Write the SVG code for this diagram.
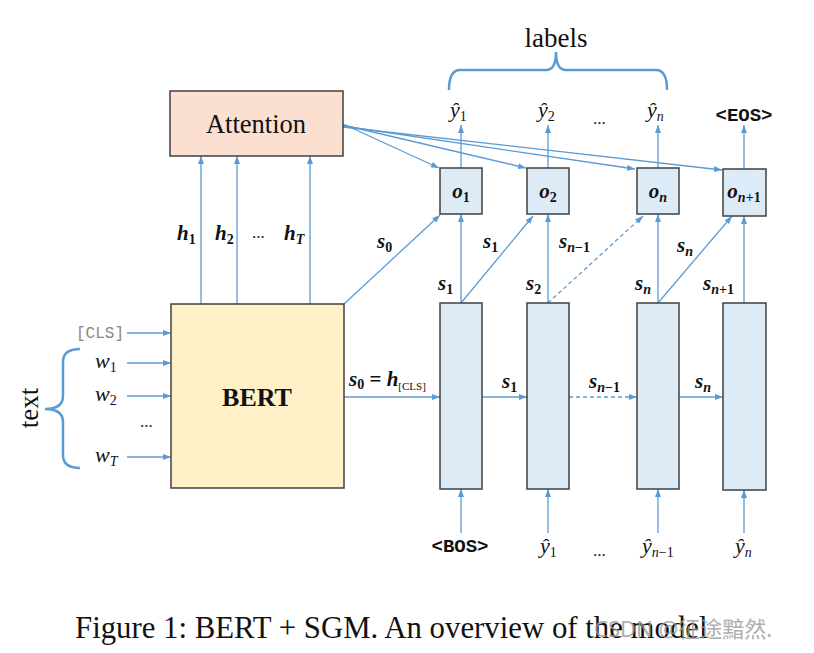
<svg xmlns="http://www.w3.org/2000/svg" width="814" height="653" viewBox="0 0 814 653">
<style>
.box{stroke:#404040;stroke-width:1.5}
.cell{fill:#ddebf7;stroke:#404040;stroke-width:1.5}
.ar{stroke:#5b9bd5;stroke-width:1.3;fill:none;marker-end:url(#ah)}
.dash{stroke-dasharray:4,3}
.brace{stroke:#5b9bd5;stroke-width:2.5;fill:none}
.serif{font-family:"Liberation Serif","Times New Roman",serif;fill:#111}
.mb{font-family:"Liberation Serif","Times New Roman",serif;font-weight:bold;font-style:italic;font-size:21px;fill:#111}
.mi{font-family:"Liberation Serif","Times New Roman",serif;font-style:italic;font-size:22px;fill:#111}
.sub{font-size:14px;font-style:normal}
.subi{font-size:14px;font-style:italic}
.mono{font-family:"Liberation Mono","Courier New",monospace;font-weight:bold;font-size:19px;fill:#111}
.dots{font-family:"Liberation Serif",serif;font-size:17px;fill:#222}
</style>
<defs>
<marker id="ah" markerUnits="userSpaceOnUse" markerWidth="8" markerHeight="6" refX="8" refY="3" orient="auto">
<path d="M0,0 L8,3 L0,6 z" fill="#5b9bd5"/>
</marker>
</defs>
<rect width="814" height="653" fill="#ffffff"/>

<g id="connectors">
<!-- inputs to BERT -->
<line class="ar" x1="127" y1="333" x2="171" y2="333"/>
<line class="ar" x1="127" y1="363" x2="171" y2="363"/>
<line class="ar" x1="127" y1="396" x2="171" y2="396"/>
<line class="ar" x1="127" y1="457" x2="171" y2="457"/>
<!-- h arrows -->
<line class="ar" x1="201" y1="304" x2="201" y2="156"/>
<line class="ar" x1="237" y1="304" x2="237" y2="156"/>
<line class="ar" x1="310" y1="304" x2="310" y2="156"/>
<!-- attention to outputs -->
<line class="ar" x1="343" y1="124" x2="439" y2="168"/>
<line class="ar" x1="343" y1="125" x2="526" y2="168"/>
<line class="ar" x1="343" y1="126" x2="635" y2="169"/>
<line class="ar" x1="343" y1="127" x2="722" y2="170"/>
<!-- s0 diagonal -->
<line class="ar" x1="344" y1="304" x2="440" y2="215"/>
<!-- horizontal state arrows -->
<line class="ar" x1="344" y1="397" x2="440" y2="397"/>
<line class="ar" x1="482" y1="397" x2="527" y2="397"/>
<line class="ar dash" x1="569" y1="397" x2="637" y2="397"/>
<line class="ar" x1="679" y1="397" x2="723" y2="397"/>
<!-- vertical cell to output -->
<line class="ar" x1="461" y1="303" x2="461" y2="214"/>
<line class="ar" x1="548" y1="303" x2="548" y2="214"/>
<line class="ar" x1="658" y1="303" x2="658" y2="214"/>
<line class="ar" x1="744" y1="303" x2="744" y2="216"/>
<!-- diagonals -->
<line class="ar" x1="461" y1="303" x2="533" y2="216"/>
<line class="ar dash" x1="548" y1="303" x2="643" y2="216"/>
<line class="ar" x1="658" y1="303" x2="732" y2="216"/>
<!-- outputs up -->
<line class="ar" x1="461" y1="168" x2="461" y2="125"/>
<line class="ar" x1="548" y1="168" x2="548" y2="125"/>
<line class="ar" x1="658" y1="168" x2="658" y2="125"/>
<line class="ar" x1="744" y1="169" x2="744" y2="125"/>
<!-- inputs from below -->
<line class="ar" x1="461" y1="533" x2="461" y2="489"/>
<line class="ar" x1="548" y1="533" x2="548" y2="489"/>
<line class="ar" x1="658" y1="533" x2="658" y2="489"/>
<line class="ar" x1="744" y1="533" x2="744" y2="490"/>
</g>

<g id="attention">
<rect class="box" x="170" y="91" width="173" height="65" fill="#fbe0d2"/>
<text class="serif" x="256" y="133" font-size="26.5" text-anchor="middle">Attention</text>
</g>

<g id="bert">
<rect class="box" x="171" y="304" width="173" height="184" fill="#fff0c8"/>
<text class="serif" x="257" y="406" font-size="26" font-weight="bold" text-anchor="middle">BERT</text>
</g>

<g id="cell1"><rect class="cell" x="440" y="303" width="42" height="186"/></g>
<g id="cell2"><rect class="cell" x="527" y="303" width="42" height="186"/></g>
<g id="cell3"><rect class="cell" x="637" y="303" width="42" height="186"/></g>
<g id="cell4"><rect class="cell" x="723" y="303" width="43" height="187"/></g>

<g id="o1"><rect class="cell" x="440" y="168" width="42" height="46"/>
<text class="mb" x="461" y="198" text-anchor="middle">o<tspan class="sub" dy="4">1</tspan></text></g>
<g id="o2"><rect class="cell" x="527" y="168" width="42" height="46"/>
<text class="mb" x="548" y="198" text-anchor="middle">o<tspan class="sub" dy="4">2</tspan></text></g>
<g id="on"><rect class="cell" x="637" y="168" width="42" height="46"/>
<text class="mb" x="658" y="198" text-anchor="middle">o<tspan class="subi" dy="4">n</tspan></text></g>
<g id="on1"><rect class="cell" x="723" y="169" width="43" height="47"/>
<text class="mb" x="744" y="198" text-anchor="middle">o<tspan class="subi" dy="4">n</tspan><tspan class="sub">+1</tspan></text></g>

<g id="labels-brace">
<path class="brace" d="M449,90 Q449,70 460,70 L546,70 Q556,70 556,52 Q556,70 566,70 L656,70 Q667,70 667,90"/>
<text class="serif" x="556" y="47" font-size="27" text-anchor="middle">labels</text>
</g>

<g id="text-brace">
<path class="brace" d="M80,349 Q63,349 63,362 L63,396 Q63,409 45,409 Q63,409 63,422 L63,455 Q63,468 80,468"/>
<text class="serif" transform="translate(38,408) rotate(-90)" font-size="27" text-anchor="middle">text</text>
</g>

<g id="inputs">
<text x="124" y="338" font-family="Liberation Mono,monospace" font-size="16" fill="#888" text-anchor="end">[CLS]</text>
<text class="mi" x="95" y="368">w<tspan class="sub" dy="4">1</tspan></text>
<text class="mi" x="95" y="401">w<tspan class="sub" dy="4">2</tspan></text>
<text class="dots" x="140" y="427">...</text>
<text class="mi" x="95" y="462">w<tspan class="subi" dy="4">T</tspan></text>
</g>

<g id="edge-labels">
<text class="mb" x="177" y="240">h<tspan class="sub" dy="4">1</tspan></text>
<text class="mb" x="215" y="240">h<tspan class="sub" dy="4">2</tspan></text>
<text class="dots" x="252" y="238">...</text>
<text class="mb" x="284" y="240">h<tspan class="subi" dy="4">T</tspan></text>
<text class="mb" x="377" y="248">s<tspan class="sub" dy="4">0</tspan></text>
<text class="mb" x="349" y="386">s<tspan class="sub" dy="3">0</tspan><tspan dy="-3" font-style="normal"> = </tspan>h<tspan font-size="11" font-weight="normal" font-style="normal" dy="4">[CLS]</tspan></text>
<text class="mb" x="502" y="388">s<tspan class="sub" dy="4">1</tspan></text>
<text class="mb" x="589" y="388">s<tspan class="subi" dy="4">n</tspan><tspan class="sub">−1</tspan></text>
<text class="mb" x="695" y="388">s<tspan class="subi" dy="4">n</tspan></text>
<text class="mb" x="438" y="290">s<tspan class="sub" dy="4">1</tspan></text>
<text class="mb" x="526" y="290">s<tspan class="sub" dy="4">2</tspan></text>
<text class="mb" x="635" y="290">s<tspan class="subi" dy="4">n</tspan></text>
<text class="mb" x="703" y="290">s<tspan class="subi" dy="4">n</tspan><tspan class="sub">+1</tspan></text>
<text class="mb" x="483" y="248">s<tspan class="sub" dy="4">1</tspan></text>
<text class="mb" x="559" y="248">s<tspan class="subi" dy="4">n</tspan><tspan class="sub">−1</tspan></text>
<text class="mb" x="677" y="252">s<tspan class="subi" dy="4">n</tspan></text>
</g>

<g id="outputs">
<text class="mi" x="450" y="117">ŷ<tspan class="sub" dy="4">1</tspan></text>
<text class="mi" x="538" y="117">ŷ<tspan class="sub" dy="4">2</tspan></text>
<text class="dots" x="593" y="124">...</text>
<text class="mi" x="647" y="117">ŷ<tspan class="subi" dy="4">n</tspan></text>
<text class="mono" x="744" y="121" text-anchor="middle">&lt;EOS&gt;</text>
</g>

<g id="decoder-inputs">
<text class="mono" x="460" y="552" text-anchor="middle">&lt;BOS&gt;</text>
<text class="mi" x="540" y="553">ŷ<tspan class="sub" dy="4">1</tspan></text>
<text class="dots" x="593" y="556">...</text>
<text class="mi" x="642" y="553">ŷ<tspan class="subi" dy="4">n</tspan><tspan class="sub">−1</tspan></text>
<text class="mi" x="735" y="553">ŷ<tspan class="subi" dy="4">n</tspan></text>
</g>

<g id="caption">
<text class="serif" x="75" y="638" font-size="30.8">Figure 1: BERT + SGM. An overview of the model</text>
<text x="594" y="637" font-family="Noto Sans,Noto Sans CJK SC,sans-serif" font-size="22" fill="#9a9a9a" opacity="0.8">CSDN @征途黯然.</text>
</g>
</svg>
